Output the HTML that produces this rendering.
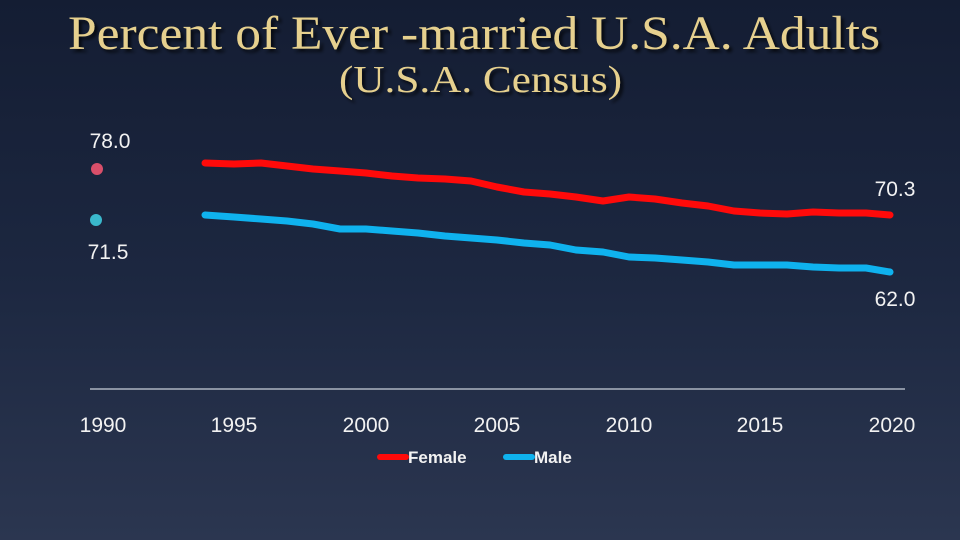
<!DOCTYPE html>
<html><head><meta charset="utf-8"><style>
html,body{margin:0;padding:0}
body{width:960px;height:540px;overflow:hidden;background:linear-gradient(180deg,#141d33 0%,#1c2740 50%,#2b3650 100%);}
svg{display:block}
</style></head><body>
<svg width="960" height="540" viewBox="0 0 960 540">
<defs><filter id="sh"><feDropShadow dx="3" dy="3" stdDeviation="1.5" flood-color="#000" flood-opacity="0.7"/></filter></defs>
<g font-family="'Liberation Serif',serif" fill="#e6d08e" filter="url(#sh)">
<text x="68" y="49" font-size="48" textLength="812" lengthAdjust="spacingAndGlyphs">Percent of Ever -married U.S.A. Adults</text>
<text x="339" y="92" font-size="38" textLength="283" lengthAdjust="spacingAndGlyphs">(U.S.A. Census)</text>
</g>
<line x1="90" y1="389" x2="905" y2="389" stroke="#8a93a3" stroke-width="2"/>
<g font-family="'Liberation Sans',sans-serif" fill="#f2f2f2" font-size="21" text-anchor="middle">
<text x="103" y="432">1990</text><text x="234" y="432">1995</text><text x="366" y="432">2000</text>
<text x="497" y="432">2005</text><text x="629" y="432">2010</text><text x="760" y="432">2015</text>
<text x="892" y="432">2020</text>
<text x="110" y="148">78.0</text><text x="108" y="259">71.5</text>
<text x="895" y="196">70.3</text><text x="895" y="306">62.0</text>
</g>
<circle cx="97" cy="169" r="6" fill="#d94f6a"/>
<circle cx="96" cy="220" r="6" fill="#3ab8cc"/>
<polyline fill="none" stroke="#ff0a0a" stroke-width="7" stroke-linejoin="round" stroke-linecap="round"
points="205,163 234,164 261,163 287,166 313,169 340,171 366,173 392,176 418,178 445,179 471,181 497,187 524,192 550,194 576,197 603,201 629,197 655,199 682,203 708,206 734,211 760,213 787,214 813,212 839,213 866,213 890,215"/>
<polyline fill="none" stroke="#0fb2ee" stroke-width="7" stroke-linejoin="round" stroke-linecap="round"
points="205,215 234,217 261,219 287,221 313,224 340,229 366,229 392,231 418,233 445,236 471,238 497,240 524,243 550,245 576,250 603,252 629,257 655,258 682,260 708,262 734,265 760,265 787,265 813,267 839,268 866,268 890,272"/>
<line x1="380" y1="457" x2="406" y2="457" stroke="#ff0a0a" stroke-width="6" stroke-linecap="round"/>
<line x1="506" y1="457" x2="532" y2="457" stroke="#0fb2ee" stroke-width="6" stroke-linecap="round"/>
<g font-family="'Liberation Sans',sans-serif" fill="#f2f2f2" font-size="17" font-weight="bold">
<text x="408" y="463">Female</text><text x="534" y="463">Male</text>
</g>
</svg>
</body></html>
